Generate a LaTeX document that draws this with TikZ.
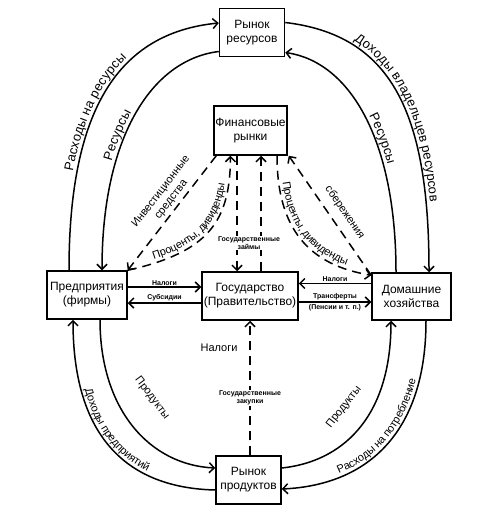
\documentclass[tikz,border=0pt]{standalone}
\usepackage{fontspec}
\setmainfont{Liberation Sans}
\usetikzlibrary{arrows.meta,decorations.text}
\begin{document}
\begin{tikzpicture}[x=1pt,y=-1pt,
  box/.style={draw, line width=1.5pt, inner sep=0pt, align=center, font=\fontsize{12}{14}\selectfont},
  flow/.style={line width=1.5pt, -{Straight Barb[length=5pt,width=10pt,line width=1.5pt]}},
  dflow/.style={flow, dash pattern=on 9pt off 6pt},
  small/.style={font=\bfseries\fontsize{7}{8}\selectfont, inner sep=1pt, align=center},
  mid/.style={font=\fontsize{11}{13}\selectfont, inner sep=1pt, align=center},
  along/.style 2 args={decorate, decoration={text along path, text={#1}, text align=center, raise=#2}},
]
\useasboundingbox (0,0) rectangle (488,516);

% boxes
\node[box, minimum width=65pt, minimum height=48pt] (RR) at (252,32.5) {Рынок\\ресурсов};
\node[box, minimum width=73pt, minimum height=49pt] (FM) at (250.5,130.5) {Финансовые\\рынки};
\node[box, minimum width=80pt, minimum height=48pt] (F) at (87,295) {Предприятия\\(фирмы)};
\node[box, minimum width=96pt, minimum height=48pt] (G) at (250,296) {Государство\\(Правительство)};
\node[box, minimum width=79pt, minimum height=47pt] (H) at (411.5,296.5) {Домашние\\хозяйства};
\node[box, minimum width=65pt, minimum height=48pt] (PR) at (248.5,480) {Рынок\\продуктов};

% anchor points
\coordinate (Fo) at ([xshift=-18pt]F.north);
\coordinate (Fi) at ([xshift=15pt]F.north);
\coordinate (RRo) at ([yshift=9.5pt]RR.west);
\coordinate (RRi) at ([yshift=-19pt]RR.west);
\coordinate (RRe1) at ([yshift=10pt]RR.east);
\coordinate (RRe2) at ([yshift=-20pt]RR.east);
\coordinate (Ho) at ([xshift=17.5pt]H.north);
\coordinate (Hi) at ([xshift=-15.5pt]H.north);
\coordinate (Fbo) at ([xshift=-14pt]F.south);
\coordinate (Fbi) at ([xshift=13pt]F.south);
\coordinate (PRl1) at ([yshift=12pt]PR.west);
\coordinate (PRl2) at ([yshift=-10pt]PR.west);
\coordinate (PRr1) at ([yshift=12pt]PR.east);
\coordinate (PRr2) at ([yshift=-9pt]PR.east);
\coordinate (Hbi) at ([xshift=-20.5pt]H.south);
\coordinate (Hbo) at ([xshift=14.5pt]H.south);

% top arcs
\draw[flow] (Fo) .. controls (69,110) and (118,33) .. (RRo);
\path[along={|\fontsize{13}{15}\selectfont|Расходы на ресурсы}{4pt}] (Fo) .. controls (69,110) and (118,33) .. (RRo);
\draw[flow] (RRi) .. controls (150,60) and (102,140) .. (Fi);
\path[along={|\fontsize{13}{15}\selectfont|Ресурсы}{4pt}] (Fi) .. controls (102,140) and (150,60) .. (RRi);
\draw[flow] (RRe1) .. controls (390,35) and (429,110) .. (Ho);
\path[along={|\fontsize{13}{15}\selectfont|Доходы владельцев ресурсов}{4pt}] (RRe1) .. controls (390,35) and (429,110) .. (Ho);
\draw[flow] (Hi) .. controls (396,140) and (350,62) .. (RRe2);
\path[along={|\fontsize{13}{15}\selectfont|Ресурсы}{4pt}] (RRe2) .. controls (350,62) and (396,140) .. (Hi);

% bottom arcs
\draw[flow] (Fbi) .. controls (100,410) and (150,465) .. (PRl1);
\node[mid, rotate=-53] at (152,398) {Продукты};
\draw[flow] (PRl2) .. controls (130,488) and (73,440) .. (Fbo);
\path[along={|\fontsize{11}{13}\selectfont|Доходы предприятий}{3.5pt}] (Fbo) .. controls (73,440) and (130,488) .. (PRl2);
\draw[flow] (PRr1) .. controls (340,462) and (391,420) .. (Hbi);
\node[mid, rotate=52] at (344,407) {Продукты};
\draw[flow] (Hbo) .. controls (426,430) and (370,485) .. (PRr2);
\path[along={|\fontsize{11}{13}\selectfont|Расходы на потребление}{3.5pt}] (PRr2) .. controls (370,485) and (426,430) .. (Hbo);

% financial market dashed flows
\draw[dflow] ([xshift=3pt]FM.south west) -- (F.north east)
  node[pos=0.43, sloped, above=2pt, mid]{Инвестиционные\\средства};
\draw[dflow] (F.north east) .. controls (210,252) and (230,220) .. ([xshift=-20pt]FM.south);
\path[along={|\fontsize{11}{13}\selectfont|Проценты, дивиденды}{4pt}] (F.north east) .. controls (210,252) and (230,220) .. ([xshift=-20pt]FM.south);
\draw[dflow] ([xshift=26.5pt]FM.south) .. controls (277,230) and (310,265) .. ([yshift=-3pt]H.north west);
\path[along={|\fontsize{11}{13}\selectfont|Проценты, дивиденды}{4pt}] ([xshift=26.5pt]FM.south) .. controls (277,230) and (310,265) .. ([yshift=-3pt]H.north west);
\draw[dflow] ([yshift=-3pt]H.north west) -- ([xshift=1pt]FM.south east)
  node[pos=0.46, sloped, above=7pt, mid]{сбережения};

% government bonds
\draw[dflow] ([xshift=-13pt]G.north |- FM.south) -- ([xshift=-13pt]G.north);
\draw[dflow] ([xshift=11pt]G.north) -- ([xshift=11pt]G.north |- FM.south);
\node[small, fill=white, inner sep=0.5pt] (gz) at (249,243) {Государственные\\займы};

% horizontal flows
\draw[flow] ([yshift=8pt]F.east) -- ([yshift=8pt]F.east -| G.west)
  node[midway, above=0pt, small]{Налоги};
\draw[flow] ([yshift=-7pt]G.west) -- ([yshift=-7pt]G.west -| F.east)
  node[midway, above=0pt, small]{Субсидии};
\draw[flow] ([yshift=13pt]H.west) -- ([yshift=13pt]H.west -| G.east)
  node[midway, above=0pt, small]{Налоги};
\draw[flow] ([yshift=-6pt]G.east) -- ([yshift=-6pt]G.east -| H.west)
  node[midway, above=0pt, small]{Трансферты}
  node[midway, below=1pt, small]{(Пенсии и т. п.)};

% government purchases
\draw[dflow] (G.south |- PR.north) -- (G.south);
\node[mid] (nal) at (219,348) {Налоги};
\node[small, fill=white, inner sep=0.5pt] (gzak) at (250,398) {Государственные\\закупки};
\end{tikzpicture}
\end{document}
